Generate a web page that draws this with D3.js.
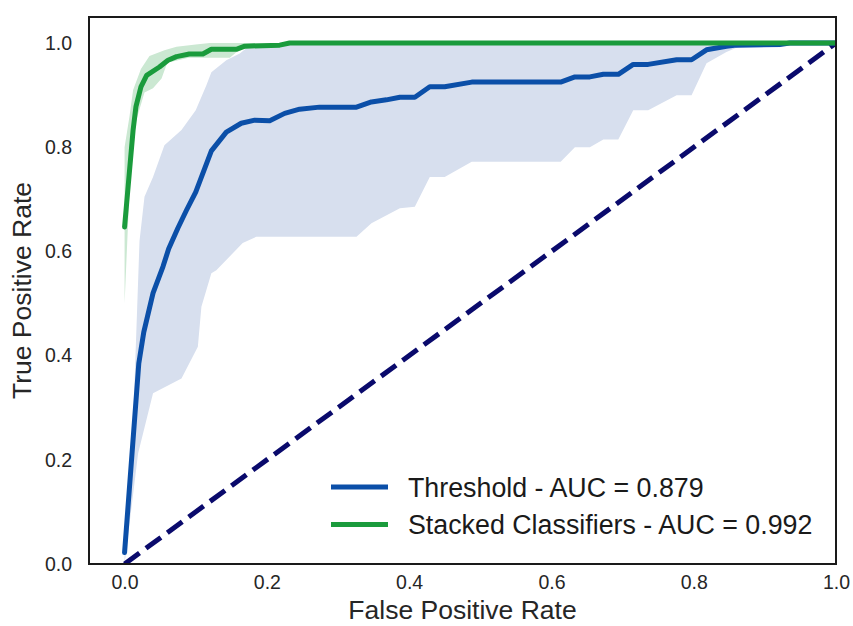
<!DOCTYPE html>
<html>
<head>
<meta charset="utf-8">
<script src="https://cdn.jsdelivr.net/npm/d3@7"></script>
<style>
  html, body { margin: 0; padding: 0; background: #fff; }
  svg { display: block; font-family: "Liberation Sans", Arial, sans-serif; }
</style>
</head>
<body>
<svg id="chart" width="853" height="626"></svg>
<script>
// Mean ROC curve of the threshold model
const threshFpr = [0, 0.02, 0.027, 0.04, 0.054, 0.062, 0.075, 0.087, 0.10, 0.122, 0.143, 0.164, 0.183, 0.204, 0.225, 0.246, 0.274, 0.326, 0.347, 0.368, 0.387, 0.408, 0.429, 0.45, 0.488, 0.613, 0.633, 0.654, 0.673, 0.694, 0.715, 0.736, 0.776, 0.797, 0.818, 0.846, 0.86, 0.921, 0.935, 1.0];
const threshTpr = [0.022, 0.385, 0.445, 0.52, 0.571, 0.605, 0.645, 0.679, 0.714, 0.793, 0.829, 0.846, 0.852, 0.851, 0.865, 0.873, 0.877, 0.877, 0.887, 0.891, 0.896, 0.896, 0.916, 0.916, 0.925, 0.925, 0.935, 0.935, 0.94, 0.94, 0.959, 0.959, 0.968, 0.968, 0.987, 0.994, 0.996, 0.997, 1.0, 1.0];

// Spread band of the threshold model (upper and lower edges)
const threshUpperFpr = [0, 0.012, 0.021, 0.028, 0.04, 0.056, 0.08, 0.10, 0.115, 0.122, 0.143, 0.162, 0.171, 0.227, 0.246, 1.0];
const threshUpperTpr = [0.06, 0.27, 0.62, 0.705, 0.743, 0.804, 0.833, 0.871, 0.919, 0.944, 0.967, 0.98, 0.99, 0.996, 1.0, 1.0];
const threshLowerFpr = [0, 0.019, 0.04, 0.08, 0.103, 0.108, 0.122, 0.129, 0.166, 0.185, 0.326, 0.347, 0.387, 0.408, 0.429, 0.45, 0.488, 0.613, 0.633, 0.654, 0.673, 0.694, 0.715, 0.736, 0.776, 0.797, 0.818, 0.846, 0.865, 0.921, 0.935, 1.0];
const threshLowerTpr = [0, 0.212, 0.328, 0.356, 0.417, 0.494, 0.558, 0.564, 0.616, 0.628, 0.628, 0.654, 0.683, 0.686, 0.743, 0.743, 0.772, 0.772, 0.8, 0.8, 0.815, 0.815, 0.871, 0.871, 0.9, 0.9, 0.961, 0.983, 0.994, 0.992, 1.0, 1.0];

// Mean ROC curve of the stacked classifiers
const stackedFpr = [0, 0.007, 0.012, 0.016, 0.023, 0.031, 0.049, 0.061, 0.073, 0.091, 0.11, 0.122, 0.157, 0.169, 0.218, 0.232, 1.0];
const stackedTpr = [0.647, 0.756, 0.833, 0.878, 0.916, 0.938, 0.954, 0.967, 0.974, 0.979, 0.979, 0.988, 0.988, 0.994, 0.996, 1.0, 1.0];

// Spread band of the stacked classifiers
const stackedUpperFpr = [0, 0.007, 0.012, 0.023, 0.035, 0.056, 0.073, 0.1, 0.12, 1.0];
const stackedUpperTpr = [0.80, 0.86, 0.91, 0.95, 0.975, 0.986, 0.993, 0.997, 1.0, 1.0];
const stackedLowerFpr = [0, 0.007, 0.016, 0.028, 0.04, 0.052, 0.06, 0.09, 0.148, 0.162, 0.22, 0.232, 1.0];
const stackedLowerTpr = [0.50, 0.72, 0.85, 0.905, 0.913, 0.932, 0.962, 0.972, 0.972, 0.988, 0.994, 1.0, 1.0];

// Chance diagonal
const chanceFpr = [0, 1];
const chanceTpr = [0, 1];

const xTicks = [0, 0.2, 0.4, 0.6, 0.8, 1.0];
const yTicks = [0, 0.2, 0.4, 0.6, 0.8, 1.0];
const legendLabels = ["Threshold - AUC = 0.879", "Stacked Classifiers - AUC = 0.992"];
const seriesColors = ["#0b4fa8", "#1a9b3c"];
const bandColors = ["#d7dfee", "#cbe8d2"];

const W = 853, H = 626;
const margin = { top: 17, right: 17, bottom: 62, left: 89 };
const iw = W - margin.left - margin.right;
const ih = H - margin.top - margin.bottom;

const svg = d3.select("#chart");
const g = svg.append("g").attr("transform", `translate(${margin.left},${margin.top})`);

const x = d3.scaleLinear().domain([-0.05, 1.0]).range([0, iw]);
const y = d3.scaleLinear().domain([0, 1.05]).range([ih, 0]);

g.append("clipPath").attr("id", "plotClip")
  .append("rect").attr("width", iw).attr("height", ih);

const plot = g.append("g").attr("clip-path", "url(#plotClip)");

const zip = (xs, ys) => xs.map((v, i) => [v, ys[i]]);
const line = d3.line().x(d => x(d[0])).y(d => y(d[1]));

function band(upX, upY, loX, loY) {
  const pts = zip(upX, upY).concat(zip(loX, loY).reverse());
  return line(pts) + "Z";
}

plot.append("path")
  .attr("d", band(threshUpperFpr, threshUpperTpr, threshLowerFpr, threshLowerTpr))
  .attr("fill", bandColors[0]).attr("stroke", "none");

plot.append("path")
  .attr("d", band(stackedUpperFpr, stackedUpperTpr, stackedLowerFpr, stackedLowerTpr))
  .attr("fill", bandColors[1]).attr("stroke", "none");

plot.append("path")
  .attr("d", line(zip(chanceFpr, chanceTpr)))
  .attr("fill", "none").attr("stroke", "#0a0a6c")
  .attr("stroke-width", 5).attr("stroke-dasharray", "18.5,8");

plot.append("path")
  .attr("d", line(zip(threshFpr, threshTpr)))
  .attr("fill", "none").attr("stroke", seriesColors[0])
  .attr("stroke-width", 5).attr("stroke-linejoin", "round").attr("stroke-linecap", "round");

plot.append("path")
  .attr("d", line(zip(stackedFpr, stackedTpr)))
  .attr("fill", "none").attr("stroke", seriesColors[1])
  .attr("stroke-width", 5).attr("stroke-linejoin", "round").attr("stroke-linecap", "round");

// Axes (no tick marks, labels only)
const xAxis = g.append("g").attr("transform", `translate(0,${ih})`)
  .call(d3.axisBottom(x).tickValues(xTicks).tickFormat(d3.format(".1f")).tickSize(0).tickPadding(11));
const yAxis = g.append("g")
  .call(d3.axisLeft(y).tickValues(yTicks).tickFormat(d3.format(".1f")).tickSize(0).tickPadding(17));
[xAxis, yAxis].forEach(a => {
  a.select(".domain").remove();
  a.selectAll("text").attr("font-size", 19.5).attr("fill", "#262626")
    .attr("font-family", "Liberation Sans, Arial, sans-serif");
});

// Frame
g.append("rect").attr("width", iw).attr("height", ih)
  .attr("fill", "none").attr("stroke", "#1a1a1a").attr("stroke-width", 2);

// Axis titles
g.append("text")
  .attr("x", iw / 2).attr("y", ih + 55)
  .attr("text-anchor", "middle").attr("font-size", 26.5).attr("fill", "#262626")
  .text("False Positive Rate");

g.append("text")
  .attr("transform", `translate(${31 - margin.left},${ih / 2}) rotate(-90)`)
  .attr("text-anchor", "middle").attr("font-size", 26.5).attr("fill", "#262626")
  .text("True Positive Rate");

// Legend
const legend = svg.append("g").attr("transform", "translate(331,487)");
legendLabels.forEach((lab, i) => {
  const row = legend.append("g").attr("transform", `translate(0,${i * 37.5})`);
  row.append("line").attr("x1", 0).attr("x2", 57).attr("y1", 0).attr("y2", 0)
    .attr("stroke", seriesColors[i]).attr("stroke-width", 5);
  row.append("text").attr("x", 77).attr("y", 9.5)
    .attr("font-size", 26.8).attr("fill", "#1a1a1a").text(lab);
});
</script>
</body>
</html>
